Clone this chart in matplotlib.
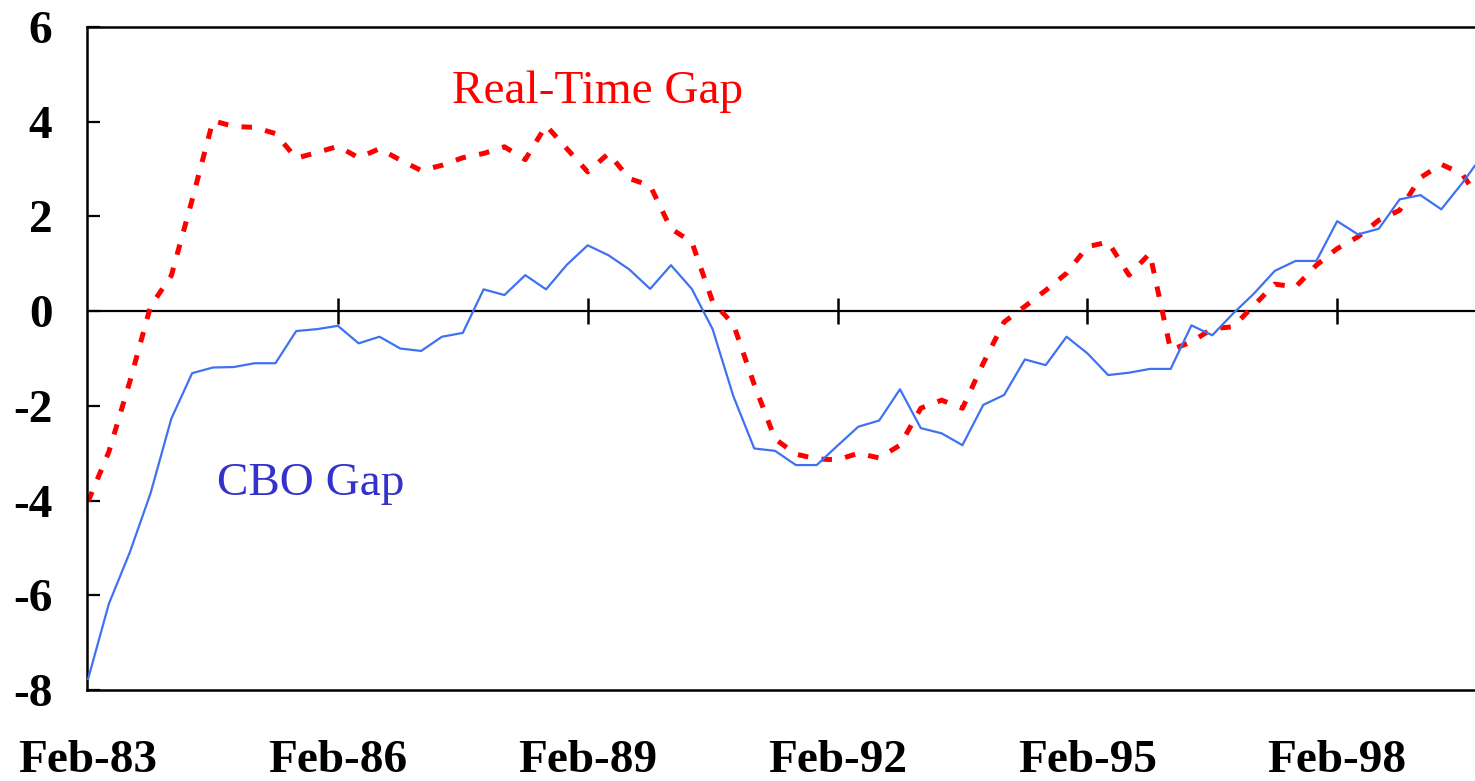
import matplotlib
matplotlib.use('Agg')
import matplotlib.pyplot as plt

# quarterly output gap estimates, starting Feb-83
cbo_gap = [-7.77, -6.18, -5.10, -3.85, -2.27, -1.31, -1.19, -1.18, -1.10, -1.10,
           -0.42, -0.38, -0.31, -0.68, -0.54, -0.79, -0.84, -0.54, -0.46, 0.46,
           0.34, 0.76, 0.46, 0.98, 1.39, 1.18, 0.88, 0.47, 0.97, 0.47,
           -0.38, -1.80, -2.90, -2.95, -3.25, -3.25, -2.84, -2.44, -2.31, -1.65,
           -2.47, -2.58, -2.83, -1.98, -1.77, -1.02, -1.14, -0.54, -0.89, -1.35,
           -1.30, -1.22, -1.22, -0.30, -0.51, -0.05, 0.37, 0.85, 1.06, 1.06,
           1.90, 1.62, 1.74, 2.36, 2.45, 2.15, 2.70, 3.30]

real_time_gap = [-4.02, -2.97, -1.50, 0.10, 0.75, 2.35, 4.02, 3.90, 3.88, 3.75,
                 3.23, 3.35, 3.48, 3.24, 3.43, 3.19, 2.97, 3.08, 3.24, 3.33,
                 3.47, 3.20, 3.92, 3.43, 2.94, 3.33, 2.80, 2.65, 1.74, 1.46,
                 0.20, -0.28, -1.55, -2.70, -3.02, -3.12, -3.14, -3.00, -3.10, -2.83,
                 -2.05, -1.88, -2.05, -1.10, -0.23, 0.10, 0.44, 0.80, 1.36, 1.46,
                 0.76, 1.22, -0.82, -0.65, -0.37, -0.33, 0.12, 0.57, 0.51, 0.97,
                 1.32, 1.57, 1.92, 2.13, 2.82, 3.10, 2.90, 2.25]

tick_labels = ['Feb-83', 'Feb-86', 'Feb-89', 'Feb-92', 'Feb-95', 'Feb-98']
tick_pos = [12 * i for i in range(len(tick_labels))]
y_ticks = [6, 4, 2, 0, -2, -4, -6, -8]

plt.rcParams['font.family'] = ['Liberation Serif', 'DejaVu Serif']

fig = plt.figure(figsize=(14.75, 7.81), dpi=100)
ax = fig.add_axes([87 / 1475, 91 / 781, 1 - 87 / 1475, (690 - 27) / 781])

q = list(range(len(cbo_gap)))
ax.axhline(0, color='black', lw=1.6, zorder=1)
ax.plot(tick_pos[1:], [0] * (len(tick_pos) - 1), linestyle='none', marker='|',
        markersize=19, mew=1.8, color='black', zorder=1)

ax.plot(q, cbo_gap, color='#3f72f2', lw=1.6, zorder=3)
ax.plot(q, real_time_gap, color='#ff0000', lw=3.6, dashes=(2.1, 2.7),
        solid_capstyle='butt', dash_capstyle='butt', zorder=2)

ax.text(17.5, 4.39, 'Real-Time Gap', color='#ff0000', fontsize=34,
        ha='left', va='baseline')
ax.text(6.2, -3.88, 'CBO Gap', color='#3333cc', fontsize=34,
        ha='left', va='baseline')

ax.set_xlim(-0.05, 66.62)
ax.set_ylim(-8, 6)
ax.set_yticks(y_ticks)
ax.set_yticklabels([str(v) for v in y_ticks], fontsize=34, fontweight='bold')
ax.set_xticks(tick_pos)
ax.set_xticklabels(tick_labels, fontsize=34, fontweight='bold')
ax.tick_params(axis='y', direction='in', length=9.5, width=1.6, pad=25)
ax.tick_params(axis='x', length=0, pad=36)

for side in ['left', 'top', 'bottom']:
    ax.spines[side].set_linewidth(1.8)
ax.spines['right'].set_visible(False)

fig.savefig('out.png', dpi=100)
